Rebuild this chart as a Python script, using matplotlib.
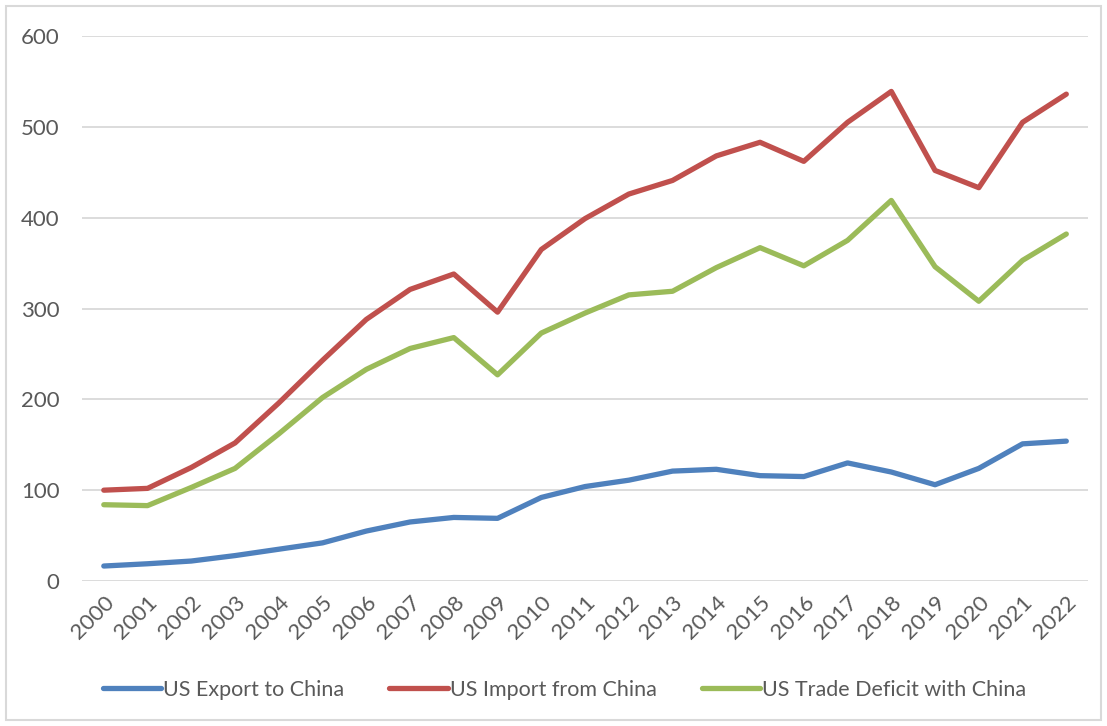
import matplotlib.pyplot as plt
from matplotlib.patches import Rectangle

years = [str(y) for y in range(2000, 2023)]
export = [16.5, 19, 22, 28, 35, 42, 55, 65, 70, 69, 92, 104, 111, 121, 123,
          116, 115, 130, 120, 106, 124, 151, 154]
imports = [100, 102, 125, 152, 196, 243, 288, 321, 338, 296, 365, 399, 426,
           441, 468, 483, 462, 505, 539, 452, 433, 505, 536]
deficit = [84, 83, 103, 124, 162, 202, 233, 256, 268, 227, 273, 295, 315,
           319, 345, 367, 347, 375, 419, 346, 308, 353, 382]

plt.rcParams['font.family'] = ['Lato', 'DejaVu Sans']
text_color = '#595959'

fig = plt.figure(figsize=(11.07, 7.26), dpi=100)
ax = fig.add_axes([0.074, 0.1997, 0.909, 0.7507])

x = range(len(years))
lw = 3.8
ax.plot(x, export, color='#4F81BD', lw=lw, solid_capstyle='round',
        label='US Export to China')
ax.plot(x, imports, color='#C0504D', lw=lw, solid_capstyle='round',
        label='US Import from China')
ax.plot(x, deficit, color='#9BBB59', lw=lw, solid_capstyle='round',
        label='US Trade Deficit with China')

ax.set_xlim(-0.5, len(years) - 0.5)
ax.set_ylim(0, 600)
ax.set_yticks(range(0, 601, 100))
ax.set_xticks(list(x))
ax.set_xticklabels(years, rotation=45, ha='right', rotation_mode='anchor')
ax.grid(axis='y', color='#D9D9D9', lw=1.3)
ax.set_axisbelow(True)
for s in ax.spines.values():
    s.set_visible(False)
ax.tick_params(length=0, labelsize=16, colors=text_color)
ax.tick_params(axis='y', pad=16)
ax.tick_params(axis='x', pad=8)

leg = fig.legend(loc='center', bbox_to_anchor=(0.51, 0.05), ncol=3,
                 frameon=False, fontsize=15.5, handlelength=2.7,
                 handletextpad=0.1, columnspacing=2.1)
for t in leg.get_texts():
    t.set_color(text_color)

fig.patches.append(Rectangle((0.005, 0.008), 0.99, 0.984, transform=fig.transFigure,
                             fill=False, edgecolor='#D9D9D9', lw=1.5))

fig.savefig('out.png', dpi=100, facecolor='white')
